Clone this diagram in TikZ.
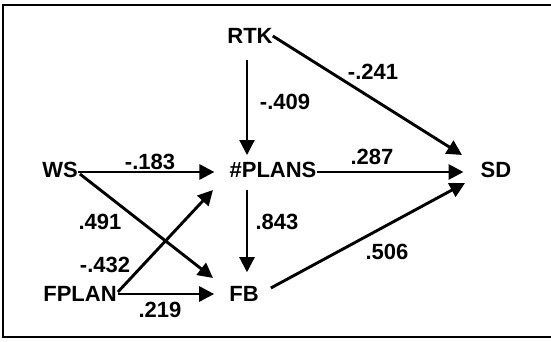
\documentclass[tikz,border=0pt]{standalone}
\usepackage{fontspec}
\setmainfont{Liberation Sans}
\usetikzlibrary{arrows.meta}
\begin{document}
\begin{tikzpicture}[x=1pt,y=1pt,
  var/.style={inner sep=0pt,font=\fontsize{22}{22}\selectfont\bfseries},
  coef/.style={inner sep=0pt,font=\fontsize{22}{22}\selectfont\bfseries},
  arr/.style={line width=2.9pt,-{Triangle[length=15pt,width=15pt]}},
  varr/.style={arr,line width=2.2pt}]
\useasboundingbox (0,0) rectangle (551,341);
\draw[line width=2pt] (3,4) rectangle (556,336);

% variables
\node[var] (RTK)   at (250,305) {RTK};
\node[var] (PLANS) at (273,171) {\#PLANS};
\node[var] (WS)    at (60,171)  {WS};
\node[var] (SD)    at (496,171) {SD};
\node[var] (FB)    at (244,47)  {FB};
\node[var] (FPLAN) at (80,47)   {FPLAN};

% paths
\draw[varr,shorten <=16pt,shorten >=7pt] ([xshift=-3pt]RTK.south) -- ([xshift=-3pt]RTK.south |- PLANS.north);
\draw[arr] (RTK.east) -- ([shift={(-34pt,15pt)}]SD.center);
\draw[arr,shorten >=15pt] ([yshift=-2pt]WS.east) -- ([yshift=-2pt]PLANS.west);
\draw[arr,shorten >=17pt] ([yshift=-2pt]PLANS.east) -- ([yshift=-2pt]SD.west);
\draw[varr,shorten <=12pt,shorten >=14pt] ([xshift=3pt]FB.north |- PLANS.south) -- ([xshift=3pt]FB.north);
\draw[arr] ([shift={(12pt,6pt)}]FB.east) -- ([shift={(-31pt,-13pt)}]SD.center);
\draw[arr] ([shift={(2pt,-4pt)}]WS.east) -- ([shift={(-31pt,16pt)}]FB.center);
\draw[arr] ([shift={(1pt,2pt)}]FPLAN.east) -- ([shift={(-60pt,-20pt)}]PLANS.center);
\draw[arr,shorten >=15pt] ([xshift=1pt]FPLAN.east) -- (FB.west);

% path coefficients
\node[coef] (c1) at (373,269) {-.241};
\node[coef] (c2) at (285,239) {-.409};
\node[coef] (c3) at (150,179) {-.183};
\node[coef] (c4) at (372,184) {.287};
\node[coef] (c5) at (100,119) {.491};
\node[coef] (c6) at (277,119) {.843};
\node[coef] (c7) at (105,76)  {-.432};
\node[coef] (c8) at (387,89)  {.506};
\node[coef] (c9) at (160,31)  {.219};
\end{tikzpicture}
\end{document}
